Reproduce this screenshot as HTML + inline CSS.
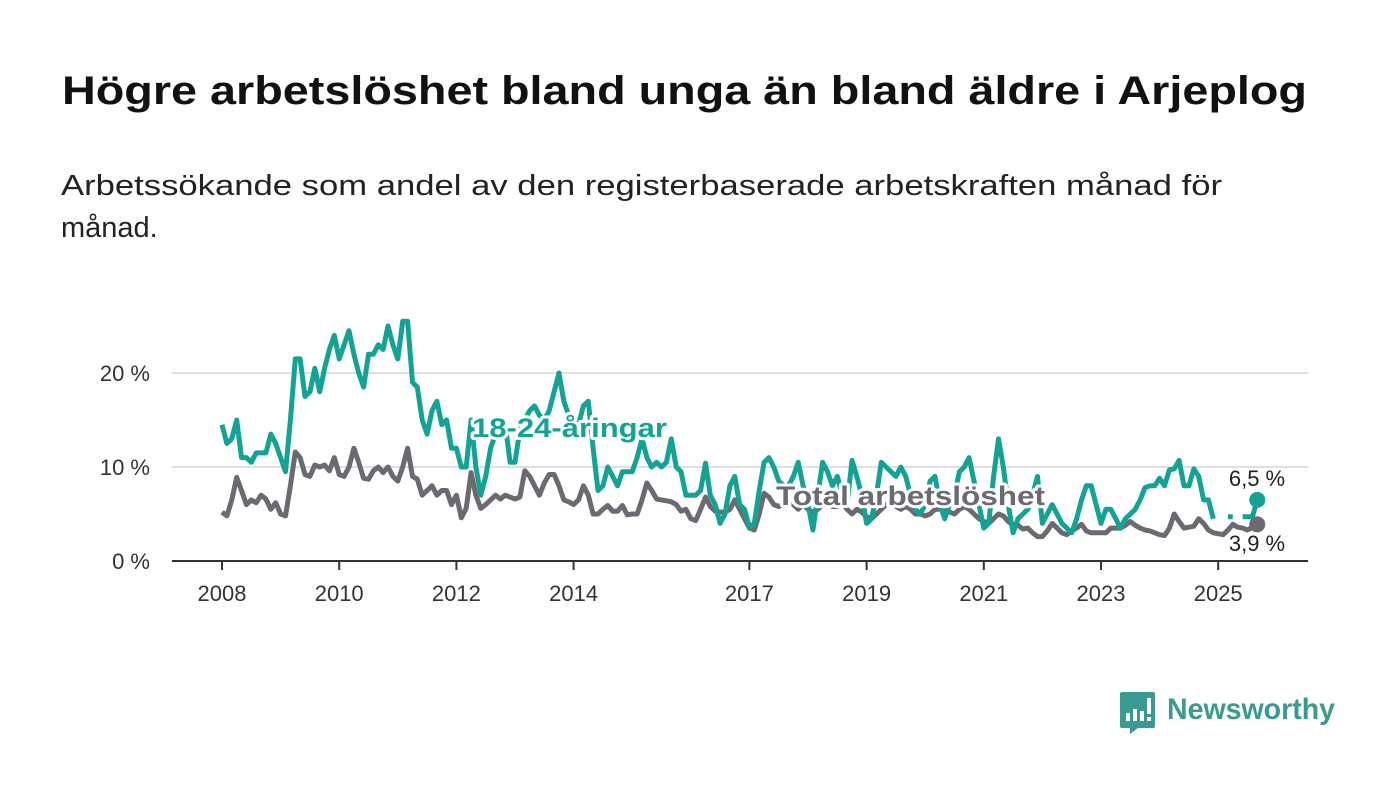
<!DOCTYPE html>
<html><head><meta charset="utf-8">
<style>
html,body{margin:0;padding:0;background:#fff;}
svg{display:block;font-family:"Liberation Sans",sans-serif;}
</style></head>
<body>
<svg id="chart" width="1400" height="794" viewBox="0 0 1400 794">
<text x="62" y="104" font-size="40" font-weight="bold" fill="#111" textLength="1245" lengthAdjust="spacingAndGlyphs">Högre arbetslöshet bland unga än bland äldre i Arjeplog</text>
<text x="61" y="195" font-size="29" fill="#222" textLength="1161" lengthAdjust="spacingAndGlyphs">Arbetssökande som andel av den registerbaserade arbetskraften månad för</text>
<text x="61" y="237" font-size="29" fill="#222">månad.</text>
<g id="grid"></g>
<g id="yaxis"></g>
<g id="xaxis"></g>
<g id="series"></g>
<g id="labels"></g>
<g>
<path d="M1122 692 h31 a2 2 0 0 1 2 2 v32 a2 2 0 0 1 -2 2 h-15 l-8 6 v-6 h-8 a2 2 0 0 1 -2 -2 v-32 a2 2 0 0 1 2 -2z" fill="#3a9a92"/>
<rect x="1126" y="713" width="4" height="8" fill="#fff"/><rect x="1133" y="709" width="4" height="12" fill="#fff"/><rect x="1140" y="711" width="4" height="10" fill="#fff"/><rect x="1147" y="698" width="4" height="16" fill="#fff"/><rect x="1147" y="717" width="4" height="4" fill="#fff"/>
<text x="1167" y="719" font-size="30" font-weight="bold" fill="#3a9a92" textLength="168" lengthAdjust="spacingAndGlyphs">Newsworthy</text>
</g>
</svg>
<script>
const yTicks=[0,10,20];
const yTickLabels=["0 %","10 %","20 %"];
const xTickYears=[2008,2010,2012,2014,2017,2019,2021,2023,2025];
const startYear=2008;
const youth=[
14.5,12.5,13,15,11,11,10.5,11.5,11.5,11.5,13.5,12.5,
11,9.5,15,21.5,21.5,17.5,18,20.5,18,20.5,22.5,24,
21.5,23,24.5,22,20,18.5,22,22,23,22.5,25,23,
21.5,25.5,25.5,19,18.5,15,13.5,16,17,14.5,15,12,
12,10,10,15,10,7,9,12,13.5,14,14.5,10.5,
10.5,14,15,16,16.5,15.5,15,16,18,20,17,15.5,
15,14.5,16.5,17,12,7.5,8,10,9,8,9.5,9.5,
9.5,11,13,11,10,10.5,10,10.5,13,10,9.5,7,
7,7,7.5,10.4,7,6,4,5,8,9,6,5.5,
3.6,4,7.5,10.5,11,10,8.5,8,8,9,10.5,8,
6,3.3,7,10.5,9.5,8,9,7,6,10.7,9,7,
4,4.5,7,10.5,10,9.5,9,10,9,7,5.5,5,
6,8.5,9,6,4.5,6,7,9.5,10,11,8.5,6,
3.5,4,9,13,10,6,3,4.5,5,5.5,7,9,
4,5,6,5,4,3.5,3,4.5,6.5,8,8,6,
4,5.5,5.5,4.5,3.5,4.5,5,5.5,6.5,7.8,8,8,
8.8,8,9.7,9.8,10.7,8,8,9.8,9,6.5,6.5,4.5,
null,null,4.7,4.7,null,4.7,4.7,4.7,6.5];
const total=[
5.2,4.8,6.5,8.9,7.5,6,6.5,6.2,7,6.6,5.5,6.2,
5,4.8,8,11.6,11,9.2,9,10.2,10,10.2,9.6,11,
9.2,9,10,12,10.5,8.8,8.7,9.6,10,9.4,10,9,
8.5,10,12,9,8.7,7,7.5,8,7,7.5,7.5,6,
7,4.6,5.6,9.4,7,5.6,6,6.5,7,6.6,7,6.8,
6.6,6.8,9.6,9,8,7,8.3,9.2,9.2,8,6.5,6.3,
6,6.5,8,7,5,5,5.5,5.9,5.3,5.3,5.9,4.9,
5,5,6.5,8.3,7.5,6.6,6.5,6.4,6.3,6,5.3,5.5,
4.5,4.3,5.5,6.8,5.8,5.3,5.2,5.2,5.5,6.5,5.5,4.5,
3.5,3.3,5,7.2,6.8,6,5.8,6,6.2,6,5.5,6,
5.5,5.2,5.5,6,6.2,5.8,5.8,6.2,5.5,5,5.5,5.2,
4.7,4.5,5,5.5,6,6.2,5.8,5.5,5.8,5.5,5,5,
4.8,5,5.5,5.5,5.5,5.2,5,5.5,5.8,5.5,5,4.5,
4.2,4,4.5,5,4.8,4.2,3.8,3.8,3.4,3.5,3,2.6,
2.6,3.2,4,3.5,3,2.8,3.2,3.5,3.9,3.2,3,3,
3,3,3.5,3.5,3.5,3.8,4.2,3.8,3.5,3.3,3.2,3,
2.8,2.7,3.5,5,4.2,3.5,3.6,3.7,4.5,4,3.3,3,
2.9,2.8,3.3,3.9,3.6,3.5,3.3,3.6,3.9];

const NS="http://www.w3.org/2000/svg";
const X0=222, PXY=58.6, Y0=561, PXV=9.4;
const xPos=i=>X0+(i/12)*PXY;
const xYear=y=>X0+(y-startYear)*PXY;
const yPos=v=>Y0-v*PXV;
function mk(tag,attrs,parent){const e=document.createElementNS(NS,tag);for(const k in attrs)e.setAttribute(k,attrs[k]);parent.appendChild(e);return e;}
const grid=document.getElementById('grid'),ya=document.getElementById('yaxis'),xa=document.getElementById('xaxis'),sg=document.getElementById('series'),lg=document.getElementById('labels');
yTicks.forEach((t,i)=>{
 if(t>0){const l=mk('line',{x1:172,x2:1308,y1:yPos(t),y2:yPos(t),stroke:'#d6d6d6','stroke-width':1.5},grid);
 
 }
 const tx=mk('text',{x:150,y:yPos(t)+8,'text-anchor':'end','font-size':22,fill:'#333'},ya);
 tx.textContent=yTickLabels[i];
 
 
});
const ax=mk('line',{x1:172,x2:1308,y1:Y0,y2:Y0,stroke:'#333','stroke-width':2},xa);


xTickYears.forEach(y=>{
 const tk=mk('line',{x1:xYear(y),x2:xYear(y),y1:Y0,y2:Y0+9,stroke:'#333','stroke-width':2},xa);
 
 
 const tx=mk('text',{x:xYear(y),y:601,'text-anchor':'middle','font-size':22,fill:'#333'},xa);
 tx.textContent=y;
 
 
});
function pathFor(arr){let d='',pen=false;arr.forEach((v,i)=>{if(v==null){pen=false;return;}d+=(pen?'L':'M')+xPos(i).toFixed(1)+' '+yPos(v).toFixed(1)+' ';pen=true;});return d;}
const pt=mk('path',{d:pathFor(total),fill:'none',stroke:'#6b6a70','stroke-width':5,'stroke-linejoin':'round'},sg);


const py=mk('path',{d:pathFor(youth),fill:'none',stroke:'#13a395','stroke-width':5,'stroke-linejoin':'round'},sg);


const li=youth.length-1;
const dy=mk('circle',{cx:xPos(li),cy:yPos(youth[li]),r:8,fill:'#13a395'},sg);


const dt=mk('circle',{cx:xPos(total.length-1),cy:yPos(total[total.length-1]),r:8,fill:'#6b6a70'},sg);


function lbl(txt,x,y,fill,size,bold,name,anchor,len){
 const a={x:x,y:y,'font-size':size,'font-weight':bold?'bold':'normal',fill:fill,stroke:'#fff','stroke-width':bold?6:5,'paint-order':'stroke','stroke-linejoin':'round','text-anchor':anchor||'start'};
 if(len){a.textLength=len;a.lengthAdjust='spacingAndGlyphs';}
 const t=mk('text',a,lg);
 t.textContent=txt;
 
 
}
lbl('18-24-åringar',472,437,'#13a395',27,true,'youth-series-label',null,195);
lbl('Total arbetslöshet',776,505,'#6b6a70',27,true,'total-series-label',null,269);
lbl(youth[li].toString().replace('.',',')+' %',1257,486,'#222',22,false,'youth-end-value','middle');
lbl(total[total.length-1].toString().replace('.',',')+' %',1257,551,'#222',22,false,'total-end-value','middle');
</script>
</body></html>
